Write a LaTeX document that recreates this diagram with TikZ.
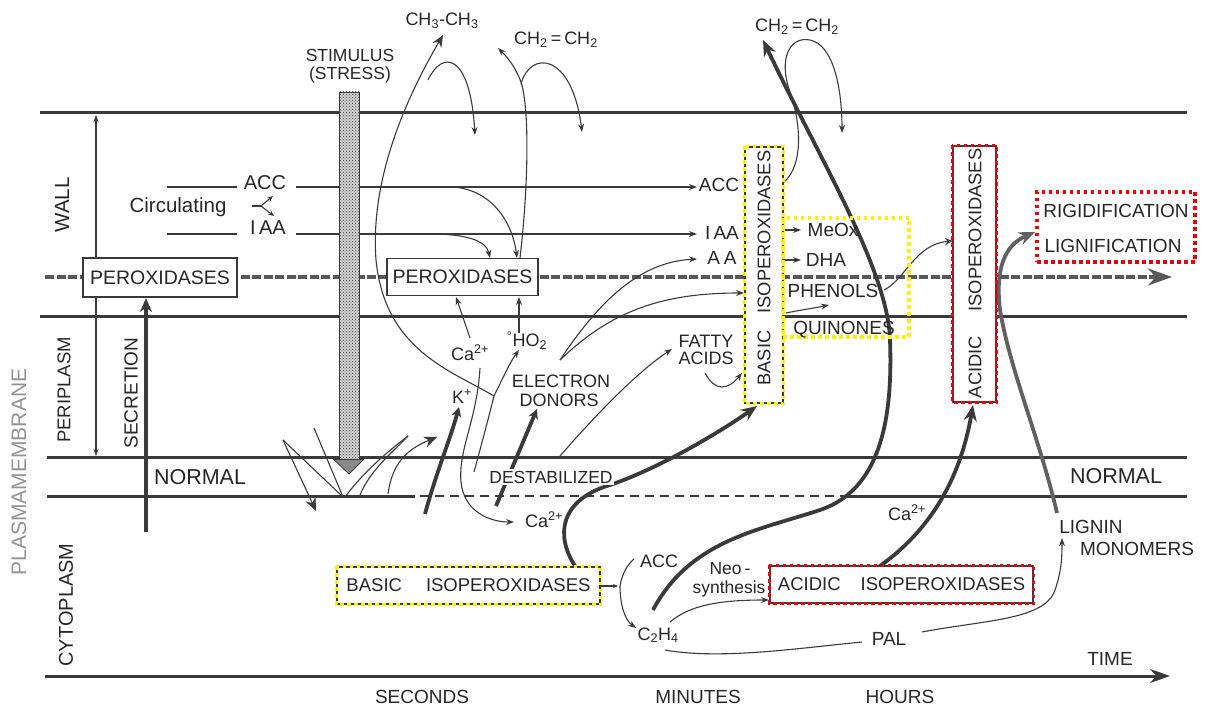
\documentclass[tikz,border=0pt]{standalone}
\usepackage{fontspec}
\setmainfont{Liberation Sans}
\usetikzlibrary{arrows.meta,patterns,calc}
\definecolor{ln}{HTML}{3A3A3A}
\definecolor{txt}{HTML}{262626}
\definecolor{hy}{HTML}{FFF200}
\definecolor{hr}{HTML}{E8000B}
\newcommand{\fs}[1]{\fontsize{#1}{#1}\selectfont}
\begin{document}
\begin{tikzpicture}[x=1pt,y=-1pt,
  lbl/.style={inner sep=0pt, text=txt, anchor=base, font=\fs{19}},
  rlbl/.style={inner sep=0pt, text=txt, rotate=90, font=\fs{19}},
  mem/.style={line width=3pt, draw=ln},
  tl/.style={line width=1.1pt, draw=ln},
  ta/.style={tl, -{Stealth[length=8pt,width=6pt]}},
  tk/.style={line width=3.8pt, draw=ln},
  tka/.style={tk, -{Stealth[length=16pt,width=13pt]}},
  pbox/.style={draw=ln, line width=1.2pt, fill=white, inner sep=0pt, text=txt},
  yhl/.style={draw=hy, line width=3.5pt, dash pattern=on 3.5pt off 3.5pt},
  rhl/.style={draw=hr, line width=3.5pt, dash pattern=on 3.5pt off 3.5pt}]
\useasboundingbox (0,0) rectangle (1207,708);

% ---------- membranes and axes
\draw[mem] (40,113) -- (1187,113);
\draw[mem] (40,317) -- (1187,317);
\draw[mem] (47,457) -- (1187,457);
\draw[mem] (47,496) -- (415,496);
\draw[tl, dash pattern=on 9pt off 6pt] (420,496) -- (843,496);
\draw[mem] (843,496) -- (1187,496);
\coordinate (t0) at (45,676); \coordinate (t1) at (1170,676);
\draw[mem, -{Stealth[length=20pt,width=14pt]}] (t0) -- (t1);
\coordinate (p0) at (45,277); \coordinate (p1) at (1172,277);
\draw[line width=4pt, draw=ln!85, dash pattern=on 9pt off 2.5pt, -{Stealth[length=24pt,width=17pt]}] (p0) -- (p1);

% ---------- left scale arrows
\coordinate (w0) at (96,115); \coordinate (w1) at (96,456);
\draw[tl, {Stealth[length=7pt,width=5pt]}-{Stealth[length=7pt,width=5pt]}] (w0) -- (w1);
\coordinate (s0) at (146,532); \coordinate (s1) at (146,298);
\draw[tk, -{Stealth[length=14pt,width=12pt]}] (s0) -- (s1);

% ---------- circulating
\draw[tl] (167,187) -- (237,187);
\draw[tl] (167,234) -- (237,234);
\draw[tl] (252,206) -- (261,206);
\draw[tl, -{Stealth[length=6pt,width=5pt]}] (261,206) -- (273,196);
\draw[tl, -{Stealth[length=6pt,width=5pt]}] (261,206) -- (274,216);
\draw[ta] (296,187) -- (697,187);
\draw[ta] (296,234) -- (697,234);
\draw[ta] (452,187) .. controls (490,189) and (512,220) .. (517,258);
\draw[ta] (430,234) .. controls (465,234) and (486,240) .. (490,258);

% ---------- gases
\draw[ta] (520,258) .. controls (528,190) and (530,110) .. (521,82) .. controls (515,66) and (507,57) .. (498,48);
\draw[ta] (521,84) .. controls (530,50) and (572,52) .. (582,132);
\coordinate (yj) at (494,396);
\draw[tl, -{Stealth[length=12pt,width=10pt]}] (yj) .. controls (450,370) and (385,350) .. (376,260) .. controls (370,180) and (405,100) .. (443,35);
\draw[ta] (428,80) .. controls (442,50) and (470,52) .. (475,135);
\draw[ta] (yj) .. controls (502,380) and (510,362) .. (519,350);
\draw[tl] (yj) .. controls (488,420) and (480,450) .. (474,472);
\draw[ta] (480,368) .. controls (477,420) and (458,450) .. (461,482) .. controls (464,512) and (490,522) .. (514,522);
\draw[ta] (470,338) -- (456,297);
\draw[ta] (519,333) -- (519,297);

% ---------- splash below stimulus
\draw[tl] (283,440) -- (343,497);
\draw[tl] (314,428) -- (343,497);
\draw[tl, -{Stealth[length=13pt,width=11pt]}] (283,440) -- (316,511);
\draw[tl] (345,497) .. controls (365,470) and (390,450) .. (408,436);
\draw[tl] (360,495) .. controls (370,470) and (395,450) .. (408,436);
\draw[tl, -{Stealth[length=13pt,width=11pt]}] (388,494) .. controls (392,465) and (405,450) .. (437,437);
\draw[tk, -{Stealth[length=10pt,width=10pt]}] (425,514) .. controls (437,470) and (450,440) .. (459,407);
\draw[tk, -{Stealth[length=10pt,width=10pt]}] (496,506) -- (537,409);

% ---------- periplasm connectors
\draw[ta] (560,360) .. controls (600,300) and (640,262) .. (697,259);
\draw[ta] (560,360) .. controls (610,312) and (660,293) .. (744,293);
\draw[ta] (560,456) .. controls (600,410) and (640,370) .. (672,349);
\draw[ta] (705,373) .. controls (715,392) and (728,390) .. (742,373);

% ---------- cytoplasm connectors
\draw[tka] (575,566) .. controls (555,535) and (560,500) .. (610,485) .. controls (660,468) and (720,432) .. (757,406);
\draw[tl, -{Stealth[length=5pt,width=4pt]}] (600,586) -- (618,586);
\draw[tl] (620,586) .. controls (622,574) and (627,565) .. (634,559);
\draw[ta] (620,586) .. controls (620,605) and (625,620) .. (636,628);
\draw[tka] (653,610) .. controls (690,540) and (760,530) .. (820,510) .. controls (880,490) and (893,420) .. (890,340) .. controls (888,270) and (820,160) .. (763,40);
\draw[ta] (670,622) .. controls (690,605) and (720,600) .. (769,600);
\draw[tl] (665,650) .. controls (720,660) and (800,648) .. (862,642);
\draw[ta] (922,632) .. controls (985,620) and (1045,620) .. (1055,590) .. controls (1062,570) and (1062,555) .. (1062,538);
\draw[tka] (880,566) .. controls (930,530) and (960,480) .. (973,405);
\draw[tka, draw=ln!80] (1057,513) .. controls (1040,440) and (1010,370) .. (1000,310) .. controls (995,268) and (1005,245) .. (1035,232);

% ---------- wall connectors
\draw[ta] (783,183) .. controls (805,165) and (800,120) .. (790,92) .. controls (778,58) and (790,36) .. (810,40) .. controls (834,45) and (842,90) .. (842,133);
\draw[ta] (784,230) -- (801,230);
\draw[ta] (784,260) -- (801,260);
\draw[ta] (786,313) .. controls (800,310) and (815,308) .. (829,305);
\draw[tl, -{Stealth[open,length=8pt,width=7pt]}] (884,290) .. controls (905,280) and (915,244) .. (953,241);

% ---------- boxes
\node[pbox, minimum width=154pt, minimum height=39pt, font=\fs{19.5}] (per1) at (160,277.5) {PEROXIDASES};
\node[pbox, minimum width=151pt, minimum height=37pt, font=\fs{19.5}] (per2) at (462.5,277) {PEROXIDASES};
\node[pbox, minimum width=38pt, minimum height=256pt] (bv) at (764,275) {};
\node[pbox, minimum width=43pt, minimum height=256pt] (av) at (974.5,274) {};
\node[pbox, minimum width=263pt, minimum height=37pt, font=\fs{18.5}] (bb) at (468.5,585.5) {BASIC\hspace{24pt}ISOPEROXIDASES};
\node[pbox, minimum width=263pt, minimum height=37pt, font=\fs{18.5}] (ab) at (901.5,584.5) {ACIDIC\hspace{20pt}ISOPEROXIDASES};
\draw[yhl] (bv.north west) rectangle (bv.south east);
\draw[rhl] (av.north west) rectangle (av.south east);
\draw[yhl] (bb.north west) rectangle (bb.south east);
\draw[rhl] (ab.north west) rectangle (ab.south east);
\node[yhl, minimum width=126pt, minimum height=119pt, inner sep=0pt] (yb) at (846,277.5) {};
\node[rhl, minimum width=158pt, minimum height=70pt, inner sep=0pt] (rb) at (1116,227) {};

\node[rlbl, font=\fs{18.3}] (bvt1) at (764,232) {ISOPEROXIDASES};
\node[rlbl, font=\fs{18.3}] (bvt2) at (764,358) {BASIC};
\node[rlbl, font=\fs{18.3}] (avt1) at (975,230) {ISOPEROXIDASES};
\node[rlbl, font=\fs{18.3}] (avt2) at (975,367) {ACIDIC};

% ---------- labels
\node[rlbl, font=\fs{20.5}] (wall) at (62,205) {WALL};
\node[rlbl, font=\fs{18.5}] (peri) at (64,390) {PERIPLASM};
\node[rlbl, font=\fs{21}, text=txt!50] (pm) at (19,472) {PLASMAMEMBRANE};
\node[rlbl, font=\fs{20}] (cyto) at (66,605) {CYTOPLASM};
\node[rlbl, font=\fs{19}] (secr) at (131,393) {SECRETION};
\node[lbl, font=\fs{21.5}] (norm1) at (200,484) {NORMAL};
\node[lbl, font=\fs{21.5}] (norm2) at (1116,483) {NORMAL};
\node[lbl, font=\fs{20.5}] (circ) at (178,213) {Circulating};
\node[lbl, font=\fs{20}] (accL) at (265,190) {ACC};
\node[lbl, font=\fs{20}] (iaaL) at (268,235) {I\,AA};
\node[lbl] (accR) at (719,192) {ACC};
\node[lbl] (iaaR) at (722,240) {I\,AA};
\node[lbl] (aa) at (722,265) {A\hspace{4pt}A};
\node[lbl, font=\fs{18}] (ch3) at (442,26) {CH\textsubscript{3}-CH\textsubscript{3}};
\node[lbl, font=\fs{18}] (ch2a) at (556,45) {CH\textsubscript{2}\,=\,CH\textsubscript{2}};
\node[lbl, font=\fs{18}] (ch2b) at (797,32) {CH\textsubscript{2}\,=\,CH\textsubscript{2}};
\node[lbl, font=\fs{17.5}] (stim1) at (350,62) {STIMULUS};
\node[lbl, font=\fs{17.5}] (stim2) at (350,80) {(STRESS)};
\node[lbl] (meox) at (833,237) {MeOx};
\node[lbl] (dha) at (826,267) {DHA};
\node[lbl] (phen) at (833,298) {PHENOLS};
\node[lbl] (quin) at (844,335) {QUINONES};
\node[lbl, font=\fs{18}] (ca1) at (470,360) {Ca\textsuperscript{2+}};
\node[lbl, font=\fs{18}] (ho2) at (527,347) {\textsuperscript{°}HO\textsubscript{2}};
\node[lbl, font=\fs{18}] (kp) at (462,403) {K\textsuperscript{+}};
\node[lbl, font=\fs{18}] (el1) at (561,388) {ELECTRON};
\node[lbl, font=\fs{18}] (el2) at (559,406) {DONORS};
\node[lbl, font=\fs{18}] (fa1) at (706,348) {FATTY};
\node[lbl, font=\fs{18}] (fa2) at (706,365) {ACIDS};
\node[lbl, font=\fs{17.5}, fill=white, inner sep=1.5pt] (dest) at (551,483) {DESTABILIZED};
\node[lbl, font=\fs{18}] (ca2) at (544,527) {Ca\textsuperscript{2+}};
\node[lbl, font=\fs{18}] (ca3) at (907,520) {Ca\textsuperscript{2+}};
\node[lbl, font=\fs{18}] (accB) at (659,567) {ACC};
\node[lbl, font=\fs{18}] (c2h4) at (658,640) {C\textsubscript{2}H\textsubscript{4}};
\node[lbl, font=\fs{17.5}] (neo1) at (730,574) {Neo\,-};
\node[lbl, font=\fs{17.5}] (neo2) at (729,593) {synthesis};
\node[lbl] (rig) at (1116,218) {RIGIDIFICATION};
\node[lbl] (lig) at (1113,253) {LIGNIFICATION};
\node[lbl] (lm1) at (1091,533) {LIGNIN};
\node[lbl] (lm2) at (1137,555) {MONOMERS};
\node[lbl] (pal) at (889,645) {PAL};
\node[lbl] (time) at (1110,665) {TIME};
\node[lbl] (sec) at (422,703) {SECONDS};
\node[lbl] (min) at (698,703) {MINUTES};
\node[lbl] (hrs) at (900,703) {HOURS};

% ---------- stimulus bar
\node[draw=ln, line width=0.8pt, minimum width=20pt, minimum height=367pt, inner sep=0pt,
      preaction={fill=gray!35}, pattern=crosshatch dots, pattern color=ln] (bar) at (349,275.5) {};
\filldraw[fill=ln!60, draw=ln, line width=0.8pt] (bar.south west) ++(-5,0) -- ++(30,0) -- (349,474) -- cycle;
\end{tikzpicture}
\end{document}
